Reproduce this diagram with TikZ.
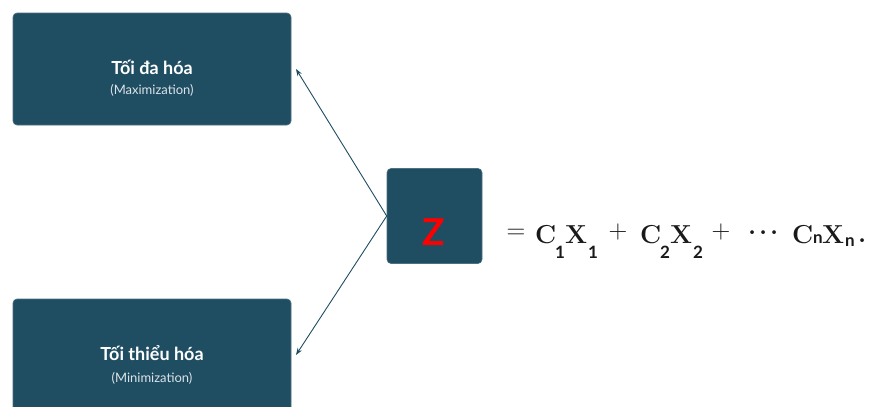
\documentclass[tikz,border=0pt]{standalone}
\usepackage{fontspec}
\setmainfont{Lato}
\newfontfamily\lmr{Latin Modern Roman}
\usetikzlibrary{arrows.meta}
\definecolor{boxblue}{HTML}{1F4D62}
\definecolor{zred}{HTML}{FF0000}
\tikzset{
  panel/.style={fill=boxblue, draw=boxblue!80!white, line width=0.6pt, rounded corners=4pt},
  title/.style={text=white, font=\bfseries\fontsize{18}{20}\selectfont, inner sep=0pt},
  sub/.style={text=white!85!boxblue, font=\fontsize{13}{15}\selectfont, inner sep=0pt},
  link/.style={draw=boxblue, line width=0.9pt, -{Stealth[length=7pt,width=5pt]}},
  fm/.style={inner sep=0pt, anchor=base west, text=black!90, font=\lmr\bfseries\fontsize{26}{30}\selectfont},
  fop/.style={inner sep=0pt, anchor=base, text=black!90, font=\lmr\fontsize{26}{30}\selectfont},
  fs/.style={inner sep=0pt, anchor=base west, text=black!90, font=\bfseries\fontsize{17}{20}\selectfont}
}
\begin{document}
\begin{tikzpicture}[x=1pt,y=-1pt]
\useasboundingbox (0,0) rectangle (871,407);
\clip (0,0) rectangle (871,407);
\fill[white] (0,0) rectangle (871,407);
% top box
\path[panel] (13,13) rectangle (291,125);
\node[title] (maxT) at (152,67) {Tối đa hóa};
\node[sub] (maxS) at (152,90) {(Maximization)};
\coordinate (maxE) at (296,69);
% bottom box
\path[panel] (13,299) rectangle (291,430);
\node[title] (minT) at (152,353) {Tối thiểu hóa};
\node[sub] (minS) at (152,378) {(Minimization)};
\coordinate (minE) at (296,355);
% Z box
\node[panel, minimum width=95pt, minimum height=95pt, inner sep=0pt] (z) at (434.5,216) {};
\node[text=zred, font=\bfseries\fontsize{37}{40}\selectfont, inner sep=0pt, anchor=base] (zl) at (434,245) {Z};
\draw[link] (z.west) -- (maxE);
\draw[link] (z.west) -- (minE);
% formula
\node[fop] (eq) at (516,238.5) {=};
\node[fm] (c1) at (535,243) {C};
\node[fs] (c1s) at (555,258) {1};
\node[fm] (x1) at (565,243) {X};
\node[fs] (x1s) at (588,258) {1};
\node[fop] (p1) at (618,238.5) {+};
\node[fm] (c2) at (640,243) {C};
\node[fs] (c2s) at (660,258) {2};
\node[fm] (x2) at (670,243) {X};
\node[fs] (x2s) at (693,258) {2};
\node[fop] (p2) at (721,238.5) {+};
\node[fm] (d1) at (748,234) {.};
\node[fm] (d2) at (759,234) {.};
\node[fm] (d3) at (770,234) {.};
\node[fm] (cn) at (792,243) {C};
\node[fs] (cns) at (813,243) {n};
\node[fm] (xn) at (822,243) {X};
\node[fs] (xns) at (845,246) {n};
\node[fm] (dot) at (858,242) {.};
\end{tikzpicture}
\end{document}
